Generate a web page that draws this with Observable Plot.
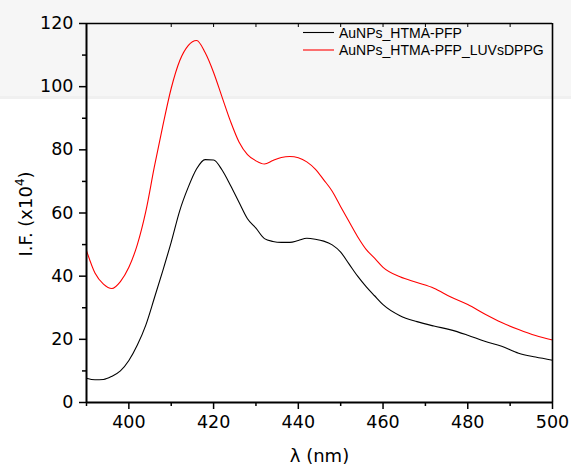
<!DOCTYPE html>
<html><head><meta charset="utf-8">
<script src="https://cdn.jsdelivr.net/npm/d3@7"></script>
<script src="https://cdn.jsdelivr.net/npm/@observablehq/plot@0.6"></script>
<style>
body{margin:0;background:#fff;}
#chart{position:relative;width:571px;height:470px;}
</style></head><body><div id="chart"></div>
<script>
const wavelengths = [390,392,394,396,398,400,402,404,406,408,410,412,414,416,418,420,422,424,426,428,430,432,434,436,438,440,442,444,446,448,450,452,454,456,458,460,464,468,472,476,480,484,488,492,496,500];
const pfpValues = [7.7,7.2,7.3,8.3,10.0,13.3,18.2,24.5,33.0,41.7,50.8,60.7,68.1,74.0,76.9,76.8,73.6,68.7,63.4,58.2,55.2,51.9,51.0,50.7,50.7,51.3,52.0,51.7,51.1,49.9,47.6,43.8,40.0,36.7,33.8,31.0,27.5,25.6,24.2,23.0,21.3,19.4,17.8,15.6,14.4,13.4];
const luvValues = [48.1,41.0,37.5,36.1,38.3,42.8,50.0,60.5,74.5,87.5,99.5,108.2,113.0,114.6,110.8,104.5,96.7,89.0,82.5,78.5,76.5,75.5,76.6,77.6,77.9,77.5,76.2,73.9,70.5,66.9,62.0,57.2,52.5,48.5,45.7,42.8,39.8,38.0,36.2,33.4,31.0,28.0,25.3,23.1,21.2,19.8];
const seriesNames = ["AuNPs_HTMA-PFP","AuNPs_HTMA-PFP_LUVsDPPG"];
const seriesColors = ["#000000","#ff0000"];
const xMajorTicks = [400,420,440,460,480,500];
const xMinorTicks = [390,410,430,450,470,490];
const xTopTicks = [410,420,430,440,450,460,470,480,490];
const yMajorTicks = [0,20,40,60,80,100,120];
const yMinorTicks = [10,30,50,70,90,110];
const xLabel = "λ (nm)";
const yLabelMain = "I.F. (x10";
const yLabelSup = "4";
const yLabelEnd = ")";

const rows = [];
wavelengths.forEach((w, i) => {
  rows.push({w, v: pfpValues[i], s: seriesNames[0]});
  rows.push({w, v: luvValues[i], s: seriesNames[1]});
});

const FONT = "'Liberation Sans', Arial, Helvetica, sans-serif";
const TICKFONT = "'DejaVu Sans', 'Liberation Sans', sans-serif";

const chart = Plot.plot({
  width: 571, height: 470,
  marginLeft: 86, marginRight: 19, marginTop: 23, marginBottom: 68,
  style: {fontFamily: TICKFONT, fontSize: "17.5px", background: "transparent", color: "#000", overflow: "visible"},
  x: {domain: [390, 500]},
  y: {domain: [0, 120]},
  color: {domain: seriesNames, range: seriesColors},
  marks: [
    Plot.line(rows, {x: "w", y: "v", z: "s", stroke: "s", strokeWidth: 1.1, curve: "monotone-x"}),
    Plot.axisX({ticks: xMajorTicks, tickSize: 7, tickPadding: 6, strokeWidth: 1.5, label: null, fontSize: 17.5}),
    Plot.axisX({ticks: xMinorTicks, tickSize: 4, strokeWidth: 1.5, fill: "none", label: null}),
    Plot.axisX({anchor: "top", ticks: xTopTicks, tickSize: -3, strokeWidth: 1, fill: "none", label: null}),
    Plot.axisY({ticks: yMajorTicks, tickSize: 7, tickPadding: 6, strokeWidth: 1.5, label: null, fontSize: 17.5}),
    Plot.axisY({ticks: yMinorTicks, tickSize: 4, strokeWidth: 1.5, fill: "none", label: null}),
    Plot.ruleX([390], {strokeWidth: 2}),
    Plot.ruleY([0], {strokeWidth: 2}),
    Plot.ruleX([500], {strokeWidth: 1.6}),
    Plot.ruleY([120], {strokeWidth: 1.6})
  ]
});

document.getElementById("chart").appendChild(chart);

const svg = d3.select(chart);
// faint background band of the source image
const bg = svg.insert("g", ":first-child");
bg.append("rect").attr("x", 0).attr("y", 0).attr("width", 571).attr("height", 98).attr("fill", "#f6f6f6");
bg.append("rect").attr("x", 0).attr("y", 96).attr("width", 571).attr("height", 3).attr("fill", "#f0f0f0");

// legend
const lg = svg.append("g").attr("font-family", FONT).attr("font-size", 14).attr("text-anchor", "start");
[32.5, 50].forEach((yy, i) => {
  lg.append("line").attr("x1", 303).attr("x2", 334).attr("y1", yy).attr("y2", yy)
    .attr("stroke", seriesColors[i]).attr("stroke-width", 1.1);
  lg.append("text").attr("x", 339).attr("y", yy).attr("dy", "0.36em").attr("fill", "#000").text(seriesNames[i]);
});

// axis titles
svg.append("text").attr("x", 319.5).attr("y", 462).attr("text-anchor", "middle")
  .attr("font-family", TICKFONT).attr("font-size", 18).attr("fill", "#000").text(xLabel);
const yl = svg.append("text").attr("transform", "translate(32,214) rotate(-90)")
  .attr("text-anchor", "middle").attr("font-family", TICKFONT).attr("font-size", 18).attr("fill", "#000");
yl.append("tspan").text(yLabelMain);
yl.append("tspan").attr("dy", -8).attr("font-size", 12).text(yLabelSup);
yl.append("tspan").attr("dy", 8).text(yLabelEnd);
</script>
</body></html>
